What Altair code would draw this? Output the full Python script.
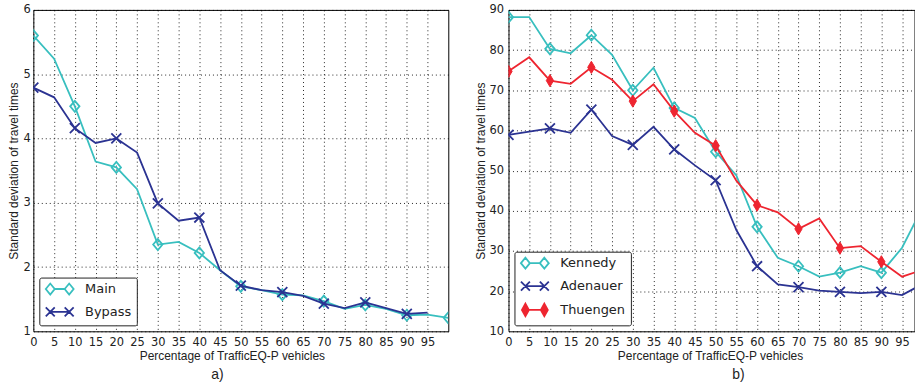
import altair as alt
import pandas as pd

# ---------------- data ----------------
pct = list(range(0, 101, 5))

main = [5.60, 5.24, 4.50, 3.64, 3.55, 3.21, 2.35, 2.39, 2.22, 1.95, 1.70,
        1.64, 1.57, 1.56, 1.47, 1.35, 1.41, 1.35, 1.25, 1.26, 1.21]
bypass = [4.79, 4.64, 4.16, 3.93, 4.00, 3.78, 2.99, 2.72, 2.77, 1.95, 1.71,
          1.64, 1.61, 1.55, 1.43, 1.36, 1.45, 1.36, 1.27, 1.29]

kennedy = [88.2, 88.2, 80.3, 79.2, 83.7, 78.8, 70.0, 75.6, 65.6, 63.1, 54.7,
           48.8, 36.0, 28.3, 26.2, 23.6, 24.6, 26.2, 24.6, 30.8, 41.0]
adenauer = [58.9, 59.7, 60.5, 59.4, 65.2, 58.6, 56.4, 60.9, 55.3, 51.3, 47.6,
            35.2, 26.2, 21.7, 21.0, 20.1, 19.8, 19.5, 19.8, 19.0, 21.8]
thuengen = [74.7, 78.2, 72.4, 71.6, 75.7, 72.6, 67.3, 71.5, 64.8, 59.4, 56.2,
            47.5, 41.4, 39.6, 35.5, 38.1, 30.7, 31.2, 27.3, 23.6, 25.3]

tick_vals = list(range(0, 100, 5))

CYAN = "#38BFBF"
NAVY = "#2B3392"
RED = "#EE2530"

DIAMOND = "M0,-1L0.85,0L0,1L-0.85,0Z"
XMARK = "M-1,-1L1,1M1,-1L-1,1"
THIN_D = "M0,-1L0.6,0L0,1L-0.6,0Z"

# legend glyphs (marker - line - marker), shifted right so they start at the entry's left edge
LEG_DIAMOND = "M-1,0L-0.1,-1.1L0.8,0L-0.1,1.1Z M2.8,0L3.7,-1.1L4.6,0L3.7,1.1Z M0.8,0L2.8,0"
LEG_X = "M-1,-0.9L0.8,0.9M-1,0.9L0.8,-0.9M2.8,-0.9L4.6,0.9M2.8,0.9L4.6,-0.9M-0.1,0L3.7,0"
LEG_THIN = "M-0.1,-1.25L0.6,0L-0.1,1.25L-0.8,0Z M3.7,-1.25L4.4,0L3.7,1.25L3.0,0Z M-0.1,0L3.7,0"
LEG_PATHS = {"diamond": LEG_DIAMOND, "x": LEG_X, "thin": LEG_THIN}


def long_df(series):
    rows = []
    for name, vals in series.items():
        for p, v in zip(pct, vals):
            rows.append({"pct": p, "value": v, "series": name})
    return pd.DataFrame(rows)


left_df = long_df({"Main": main, "Bypass": bypass})
right_df = long_df({"Kennedy": kennedy, "Adenauer": adenauer, "Thuengen": thuengen})


def x_enc(xdom, title_x):
    return alt.X(
        "pct:Q",
        scale=alt.Scale(domain=xdom, nice=False, zero=False),
        axis=alt.Axis(
            values=tick_vals, title="Percentage of TrafficEQ-P vehicles",
            grid=True, gridDash=[1, 3], gridColor="#000", gridOpacity=0.85,
            ticks=False, domain=False, labelFlush=False, labelOverlap=False,
            labelFont="DejaVu Sans", labelFontSize=11.5, labelColor="#222",
            labelPadding=5, titleFont="Liberation Sans", titleFontSize=12,
            titleFontWeight="normal", titleColor="#222", titlePadding=3,
            titleX=title_x,
        ),
    )


def y_enc(ydom, yvals, label_pad, title_pad):
    return alt.Y(
        "value:Q",
        scale=alt.Scale(domain=ydom, nice=False, zero=False),
        axis=alt.Axis(
            values=yvals, title="Standard deviation of travel times",
            grid=True, gridDash=[1, 3], gridColor="#000", gridOpacity=0.85,
            ticks=False, domain=False, labelFlush=False, labelOverlap=False,
            labelFont="DejaVu Sans", labelFontSize=11.5, labelColor="#222",
            labelPadding=label_pad, titleFont="Liberation Sans", titleFontSize=12,
            titleFontWeight="normal", titleColor="#222", titlePadding=title_pad,
        ),
    )


def panel(df, styles, xdom, ydom, yvals, title_x, label_pad, title_pad,
          caption, cap_dx, width, height):
    X = x_enc(xdom, title_x)
    Y = y_enc(ydom, yvals, label_pad, title_pad)
    layers = []
    for name, (color, shape, size, filled, _leg) in styles.items():
        base = alt.Chart(df).transform_filter(alt.datum.series == name)
        layers.append(base.mark_line(color=color, strokeWidth=1.8, clip=True)
                      .encode(x=X, y=Y))
        pts = base.transform_filter("datum.pct % 10 == 0")
        if filled:
            m = pts.mark_point(shape=shape, size=size, filled=True, fill=color,
                               stroke=color, strokeWidth=1, opacity=1, clip=True)
        else:
            m = pts.mark_point(shape=shape, size=size, filled=False, color=color,
                               strokeWidth=1.8, opacity=1, clip=True)
        layers.append(m.encode(x=X, y=Y))
    names = list(styles.keys())
    leg_shapes = [LEG_PATHS[styles[n][4]] for n in names]
    leg_strokes = [styles[n][0] for n in names]
    leg_fills = [styles[n][0] if styles[n][3] else "transparent" for n in names]
    legend = alt.Legend(
        title=None, orient="bottom-left", offset=6,
        strokeColor="#222", fillColor="white", padding=5, cornerRadius=2,
        labelFont="DejaVu Sans", labelFontSize=13, labelColor="#222",
        symbolSize=100, symbolStrokeWidth=1.8, labelOffset=28,
        rowPadding=5, symbolOpacity=1,
    )
    leg_layer = (
        alt.Chart(df).transform_filter("false")
        .mark_point(opacity=1)
        .encode(
            x=X, y=Y,
            stroke=alt.Stroke("series:N", scale=alt.Scale(domain=names, range=leg_strokes), legend=legend),
            fill=alt.Fill("series:N", scale=alt.Scale(domain=names, range=leg_fills), legend=legend),
            shape=alt.Shape("series:N", scale=alt.Scale(domain=names, range=leg_shapes), legend=legend),
        )
    )
    layers.append(leg_layer)
    return alt.layer(*layers).properties(
        width=width, height=height,
        title=alt.TitleParams(caption, orient="bottom", anchor="middle",
                              font="Liberation Sans", fontSize=14,
                              fontWeight="normal", color="#222", dx=cap_dx,
                              offset=6),
    )


left_styles = {
    "Main": (CYAN, DIAMOND, 121, False, "diamond"),
    "Bypass": (NAVY, XMARK, 100, False, "x"),
}
right_styles = {
    "Kennedy": (CYAN, DIAMOND, 121, False, "diamond"),
    "Adenauer": (NAVY, XMARK, 100, False, "x"),
    "Thuengen": (RED, THIN_D, 150, True, "thin"),
}

left = panel(left_df, left_styles, [0, 100], [1, 6], [1, 2, 3, 4, 5, 6],
             199.5, 3, 3, "a)", -23.5, 417, 323)
right = panel(right_df, right_styles, [0, 98], [10, 90],
              [10, 20, 30, 40, 50, 60, 70, 80, 90],
              202.5, 5, 1, "b)", 27, 408, 323)

chart = (
    alt.hconcat(left, right, spacing=24.5)
    .resolve_scale(stroke="independent", fill="independent", shape="independent",
                   x="independent", y="independent")
    .resolve_legend(stroke="independent", fill="independent", shape="independent")
    .properties(padding={"left": 6.5, "top": 2, "right": 0, "bottom": 0},
                background="white")
    .configure_view(stroke="#000", strokeWidth=1)
)

chart.save("out.html", embed_options={"renderer": "svg", "actions": False})
